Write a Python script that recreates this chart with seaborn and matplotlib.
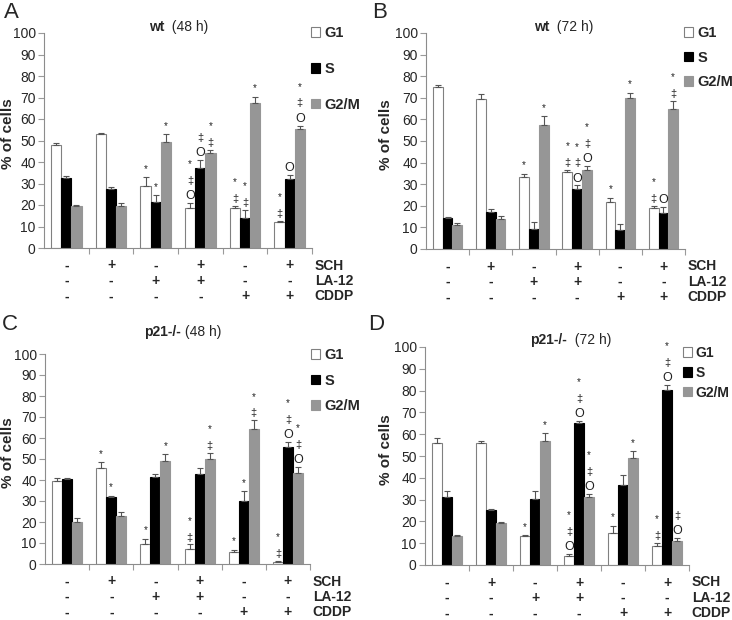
import numpy as np
import pandas as pd
import matplotlib.pyplot as plt
import seaborn as sns
from matplotlib.patches import Patch

sns.set_style("ticks")
plt.rcParams['font.family'] = ['Liberation Sans', 'DejaVu Sans']

W, H = 732, 620

phases = ["G1", "S", "G2/M"]
colors = ["#ffffff", "#000000", "#969696"]
sch = ["-", "+", "-", "+", "-", "+"]
la12 = ["-", "-", "+", "+", "-", "-"]
cddp = ["-", "-", "-", "-", "+", "+"]
row_names = ["SCH", "LA-12", "CDDP"]

# A: wt 48 h
a_g1 = [47.8, 53.0, 29.0, 18.7, 18.7, 12.2]
a_g1_err = [1.2, 0.5, 4.0, 2.3, 1.0, 0.4]
a_s = [32.6, 27.4, 21.5, 37.0, 13.8, 32.3]
a_s_err = [1.0, 1.0, 3.0, 4.0, 4.0, 1.8]
a_g2m = [19.5, 19.5, 49.4, 44.0, 67.4, 55.4]
a_g2m_err = [0.5, 1.5, 3.5, 1.8, 3.0, 1.5]
a_marks_g1 = ["", "", "*", "*‡O", "*‡", "*‡"]
a_marks_s = ["", "", "*", "‡O", "*‡", "O"]
a_marks_g2m = ["", "", "*", "*‡", "*", "*‡O"]

# B: wt 72 h
b_g1 = [75.0, 69.3, 33.4, 35.6, 21.6, 18.8]
b_g1_err = [1.0, 2.5, 1.5, 1.2, 2.2, 1.2]
b_s = [14.3, 17.2, 9.4, 27.9, 8.9, 16.6]
b_s_err = [0.6, 1.2, 3.0, 1.5, 2.5, 3.0]
b_g2m = [11.0, 13.8, 57.4, 36.6, 69.7, 64.6]
b_g2m_err = [1.2, 1.5, 4.0, 1.8, 2.6, 4.0]
b_marks_g1 = ["", "", "*", "*‡", "*", "*‡"]
b_marks_s = ["", "", "", "*‡O", "", "O"]
b_marks_g2m = ["", "", "*", "*‡O", "*", "*‡"]

# C: p21-/- 48 h
c_g1 = [39.3, 45.7, 9.6, 7.2, 5.7, 1.0]
c_g1_err = [1.8, 2.8, 2.4, 2.1, 1.2, 0.5]
c_s = [40.7, 31.7, 41.6, 43.0, 30.1, 55.9]
c_s_err = [0.4, 0.8, 1.1, 2.6, 4.5, 2.2]
c_g2m = [20.0, 22.7, 49.0, 50.0, 64.4, 43.4]
c_g2m_err = [1.8, 2.3, 3.3, 2.8, 4.0, 2.6]
c_marks_g1 = ["", "*", "*", "*‡", "*", "*‡"]
c_marks_s = ["", "*", "", "", "*", "*‡O"]
c_marks_g2m = ["", "", "*", "*‡", "*‡", "*‡O"]

# D: p21-/- 72 h
d_g1 = [55.8, 55.8, 13.1, 4.1, 14.5, 8.6]
d_g1_err = [2.4, 1.1, 0.7, 0.9, 3.5, 1.6]
d_s = [31.3, 25.1, 30.5, 65.0, 36.9, 80.4]
d_s_err = [2.7, 0.8, 3.3, 0.9, 4.6, 2.0]
d_g2m = [13.4, 19.4, 56.8, 31.2, 49.0, 11.2]
d_g2m_err = [0.5, 0.3, 3.7, 1.4, 3.3, 1.3]
d_marks_g1 = ["", "", "*", "*‡O", "*", "*‡"]
d_marks_s = ["", "", "", "*‡O", "", "*‡O"]
d_marks_g2m = ["", "", "*", "*‡O", "*", "‡O"]


def px_rect(left, top, right, bottom):
    return [left / W, 1 - bottom / H, (right - left) / W, (bottom - top) / H]


def draw_panel(fig, rect, means, errs, marks, letter, letter_xy, label_x,
               title_bold, title_rest, title_xy, legend_xy, legend_space,
               legend_size=10.5):
    ax = fig.add_axes(px_rect(*rect))
    rows = []
    for p, vals in zip(phases, means):
        for j, v in enumerate(vals):
            rows.append({"group": j, "phase": p, "value": v})
    df = pd.DataFrame(rows)
    sns.barplot(data=df, x="group", y="value", hue="phase", hue_order=phases,
                palette=colors, width=0.68, errorbar=None, legend=False,
                linewidth=0.8, edgecolor="#808080", ax=ax)

    bar_conts = list(ax.containers)
    for k, cont in enumerate(bar_conts):
        for j, bar in enumerate(cont):
            if k > 0:
                bar.set_edgecolor(colors[k])
            x = bar.get_x() + bar.get_width() / 2
            top = bar.get_height()
            ax.errorbar([x], [top], yerr=[[0], [errs[k][j]]], fmt="none",
                        ecolor="#555555", elinewidth=0.8, capsize=2, capthick=0.8)
            m = marks[k][j]
            off = 5
            for sym in reversed(m):
                size = {"*": 7, "‡": 8, "O": 9}[sym]
                if sym == "*":
                    off += 1
                ax.annotate(sym, xy=(x, top + errs[k][j]), xytext=(0, off),
                            textcoords="offset points", ha="center", va="center",
                            fontsize=size, color="#222222")
                off += 11

    ax.set_xlim(-0.5, 5.5)
    ax.set_ylim(0, 100)
    ax.set_yticks(range(0, 101, 10))
    ax.set_xticks([])
    ax.set_xticks(np.arange(0.5, 5.6, 1.0), minor=True)
    ax.tick_params(axis="x", which="minor", length=4, color="#9a9a9a", width=0.8)
    ax.tick_params(axis="y", length=4, color="#9a9a9a", width=0.8, labelsize=10, pad=2)
    ax.set_xlabel("")
    ax.set_ylabel("% of cells", fontsize=11, fontweight="bold")
    ax.yaxis.set_label_coords((label_x - rect[0]) / (rect[2] - rect[0]), 0.53)
    sns.despine(ax=ax)
    for sp in ["left", "bottom"]:
        ax.spines[sp].set_color("#8c8c8c")
        ax.spines[sp].set_linewidth(0.8)

    for r, labels in enumerate([sch, la12, cddp]):
        dy = [12.6, 23.8, 34.9][r]
        for j, lab in enumerate(labels):
            ax.annotate(lab, xy=(j, 0), xycoords=("data", "axes fraction"),
                        xytext=(0, -dy), textcoords="offset points",
                        ha="center", va="center", fontsize=10, fontweight="bold")
        ax.annotate(row_names[r], xy=(1.0, 0), xycoords="axes fraction",
                    xytext=(2, -dy), textcoords="offset points",
                    ha="left", va="center", fontsize=10, fontweight="bold")

    fig.text(letter_xy[0] / W, 1 - letter_xy[1] / H, letter, fontsize=16,
             ha="left", va="center")
    fig.text(title_xy[0] / W, 1 - title_xy[1] / H, title_bold, fontsize=10,
             fontweight="bold", ha="right", va="center")
    fig.text(title_xy[0] / W, 1 - title_xy[1] / H, title_rest, fontsize=10,
             ha="left", va="center")

    handles = [Patch(facecolor=c, edgecolor="#808080" if i == 0 else c, linewidth=0.8)
               for i, c in enumerate(colors)]
    ax.legend(handles=handles, labels=phases, loc="upper left",
              bbox_to_anchor=(legend_xy[0] / W, 1 - legend_xy[1] / H),
              bbox_transform=fig.transFigure, frameon=False,
              prop={"weight": "bold", "size": legend_size}, handlelength=0.65,
              handleheight=0.65, handletextpad=0.25, labelspacing=legend_space,
              borderpad=0, borderaxespad=0)
    return ax


fig = plt.figure(figsize=(W / 100, H / 100), dpi=100)

draw_panel(fig, (44, 33, 312, 248),
           [a_g1, a_s, a_g2m], [a_g1_err, a_s_err, a_g2m_err],
           [a_marks_g1, a_marks_s, a_marks_g2m],
           "A", (4, 12), 15, "wt", "  (48 h)", (164, 27), (311, 26), 1.5)
draw_panel(fig, (426, 33, 685, 249),
           [b_g1, b_s, b_g2m], [b_g1_err, b_s_err, b_g2m_err],
           [b_marks_g1, b_marks_s, b_marks_g2m],
           "B", (372, 13), 393, "wt", "  (72 h)", (549, 27), (684, 26), 0.72)
draw_panel(fig, (45, 354, 310, 564),
           [c_g1, c_s, c_g2m], [c_g1_err, c_s_err, c_g2m_err],
           [c_marks_g1, c_marks_s, c_marks_g2m],
           "C", (2, 324), 15, "p21-/-", " (48 h)", (181, 332), (311, 348), 0.8)
draw_panel(fig, (425, 347, 689, 565),
           [d_g1, d_s, d_g2m], [d_g1_err, d_s_err, d_g2m_err],
           [d_marks_g1, d_marks_s, d_marks_g2m],
           "D", (368, 325), 393, "p21-/-", "  (72 h)", (567, 340), (683, 346), 0.42,
           legend_size=10)

fig.savefig("out.png", dpi=100)
